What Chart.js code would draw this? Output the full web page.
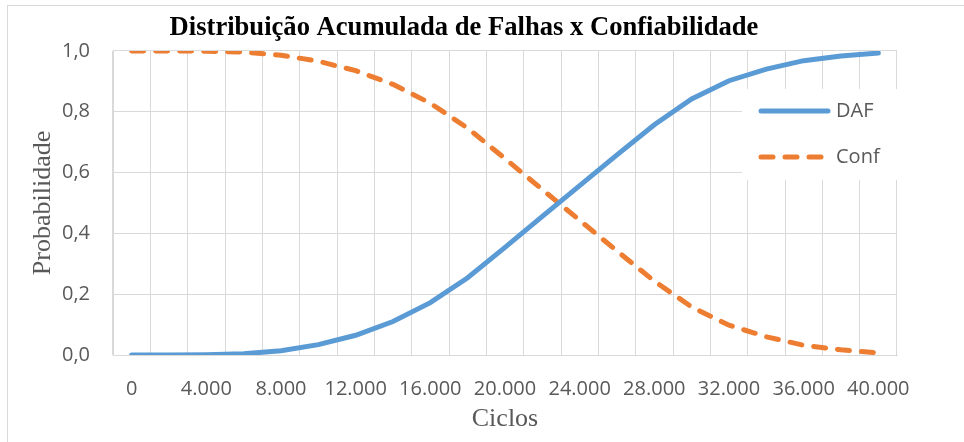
<!DOCTYPE html>
<html lang="pt-BR">
<head>
<meta charset="utf-8">
<title>Distribuição Acumulada de Falhas x Confiabilidade</title>
<script src="https://cdn.jsdelivr.net/npm/chart.js@4.4.1/dist/chart.umd.min.js"></script>
<style>
  html, body { margin: 0; padding: 0; background: #fff; }
  .wrap { position: relative; width: 964px; height: 442px; overflow: hidden; }
  .frame { position: absolute; left: 7px; top: 5px; width: 1000px; height: 500px; border: 1px solid #d9d9d9; }
  #grafico { position: absolute; left: 0; top: 0; }
</style>
</head>
<body>
<div class="wrap">
  <div class="frame"></div>
  <canvas id="grafico" width="964" height="442"></canvas>
</div>
<script>
// Ciclos (eixo X, categorias)
const ciclos = [0, 2000, 4000, 6000, 8000, 10000, 12000, 14000, 16000, 18000, 20000,
  22000, 24000, 26000, 28000, 30000, 32000, 34000, 36000, 38000, 40000];

// Distribuição acumulada de falhas
const daf = [0.000, 0.000, 0.001, 0.004, 0.014, 0.034, 0.065, 0.110, 0.172, 0.254, 0.354,
  0.456, 0.557, 0.658, 0.757, 0.842, 0.902, 0.940, 0.968, 0.983, 0.993];

// Confiabilidade
const conf = [1.000, 1.000, 0.999, 0.996, 0.986, 0.966, 0.935, 0.890, 0.828, 0.746, 0.646,
  0.544, 0.443, 0.342, 0.243, 0.158, 0.098, 0.060, 0.032, 0.017, 0.007];

const cinzaTexto = '#595959';
const cinzaGrade = '#d9d9d9';

const formatMilhar = (v) => String(v).replace(/\B(?=(\d{3})+(?!\d))/g, '.');
const formatDecimal = (v) => v.toFixed(1).replace('.', ',');

// Legenda desenhada dentro da área do gráfico, à direita
const legendaInterna = {
  id: 'legendaInterna',
  afterDatasetsDraw(chart) {
    const ctx = chart.ctx;
    const area = chart.chartArea;
    const x0 = 742, y0 = 89;
    ctx.save();
    ctx.fillStyle = '#fff';
    ctx.fillRect(x0, y0, area.right - x0, 91);
    chart.data.datasets.forEach((ds, i) => {
      const y = 111 + i * 46;
      ctx.beginPath();
      ctx.lineWidth = ds.borderWidth;
      ctx.strokeStyle = ds.borderColor;
      ctx.lineCap = 'round';
      ctx.setLineDash(ds.borderDash || []);
      ctx.moveTo(761, y);
      ctx.lineTo(828, y);
      ctx.stroke();
      ctx.setLineDash([]);
      ctx.fillStyle = cinzaTexto;
      ctx.font = '20px "Open Sans"';
      ctx.textBaseline = 'middle';
      ctx.textAlign = 'left';
      ctx.fillText(ds.label, 836, y);
    });
    ctx.restore();
  }
};

new Chart(document.getElementById('grafico'), {
  type: 'line',
  data: {
    labels: ciclos,
    datasets: [
      {
        label: 'DAF',
        data: daf,
        borderColor: '#5b9bd5',
        borderWidth: 5,
        borderCapStyle: 'round',
        pointRadius: 0,
        tension: 0
      },
      {
        label: 'Conf',
        data: conf,
        borderColor: '#ed7d31',
        borderWidth: 5,
        borderCapStyle: 'round',
        borderDash: [12, 12],
        pointRadius: 0,
        tension: 0
      }
    ]
  },
  options: {
    responsive: false,
    animation: false,
    layout: { padding: { left: 31, right: 67, top: 0, bottom: 0 } },
    plugins: {
      legend: { display: false },
      tooltip: { enabled: false },
      title: {
        display: true,
        text: 'Distribuição Acumulada de Falhas x Confiabilidade',
        color: '#000',
        font: { family: '"Liberation Serif", "Times New Roman", serif', size: 26.6, weight: 'bold', lineHeight: 1.2 },
        padding: { top: 12.3, bottom: 6.7 }
      }
    },
    scales: {
      x: {
        type: 'category',
        offset: true,
        afterFit: (s) => { s.height = 87; },
        grid: { color: cinzaGrade, lineWidth: 1, offset: true, drawTicks: false },
        border: { color: cinzaGrade },
        ticks: {
          autoSkip: false,
          maxRotation: 0,
          padding: 22,
          color: cinzaTexto,
          font: { family: '"Open Sans"', size: 20 },
          callback: function (val, idx) {
            return idx % 2 === 0 ? formatMilhar(ciclos[idx]) : '';
          }
        },
        title: {
          display: true,
          text: 'Ciclos',
          color: cinzaTexto,
          font: { family: '"Liberation Serif", "Times New Roman", serif', size: 26, lineHeight: 1.2 },
          padding: { top: 0, bottom: 7 }
        }
      },
      y: {
        min: 0,
        max: 1,
        afterFit: (s) => { s.width = 82; },
        grid: { color: cinzaGrade, lineWidth: 1, drawTicks: false },
        border: { color: cinzaGrade },
        ticks: {
          stepSize: 0.2,
          padding: 23,
          color: cinzaTexto,
          font: { family: '"Open Sans"', size: 20 },
          callback: (v) => formatDecimal(v)
        },
        title: {
          display: true,
          text: 'Probabilidade',
          color: cinzaTexto,
          font: { family: '"Liberation Serif", "Times New Roman", serif', size: 26, lineHeight: 1.2 },
          padding: { top: -3.6, bottom: 0 }
        }
      }
    }
  },
  plugins: [legendaInterna]
});
</script>
</body>
</html>
